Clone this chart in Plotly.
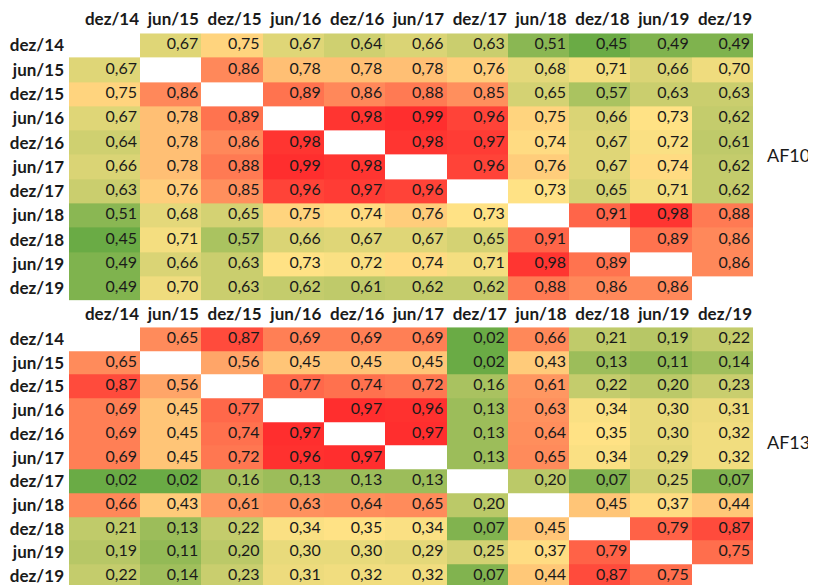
import numpy as np
import plotly.graph_objects as go

periods = ["dez/14", "jun/15", "dez/15", "jun/16", "dez/16", "jun/17",
           "dez/17", "jun/18", "dez/18", "jun/19", "dez/19"]

af10 = [
    [None, 0.67, 0.75, 0.67, 0.64, 0.66, 0.63, 0.51, 0.45, 0.49, 0.49],
    [0.67, None, 0.86, 0.78, 0.78, 0.78, 0.76, 0.68, 0.71, 0.66, 0.70],
    [0.75, 0.86, None, 0.89, 0.86, 0.88, 0.85, 0.65, 0.57, 0.63, 0.63],
    [0.67, 0.78, 0.89, None, 0.98, 0.99, 0.96, 0.75, 0.66, 0.73, 0.62],
    [0.64, 0.78, 0.86, 0.98, None, 0.98, 0.97, 0.74, 0.67, 0.72, 0.61],
    [0.66, 0.78, 0.88, 0.99, 0.98, None, 0.96, 0.76, 0.67, 0.74, 0.62],
    [0.63, 0.76, 0.85, 0.96, 0.97, 0.96, None, 0.73, 0.65, 0.71, 0.62],
    [0.51, 0.68, 0.65, 0.75, 0.74, 0.76, 0.73, None, 0.91, 0.98, 0.88],
    [0.45, 0.71, 0.57, 0.66, 0.67, 0.67, 0.65, 0.91, None, 0.89, 0.86],
    [0.49, 0.66, 0.63, 0.73, 0.72, 0.74, 0.71, 0.98, 0.89, None, 0.86],
    [0.49, 0.70, 0.63, 0.62, 0.61, 0.62, 0.62, 0.88, 0.86, 0.86, None],
]

af13 = [
    [None, 0.65, 0.87, 0.69, 0.69, 0.69, 0.02, 0.66, 0.21, 0.19, 0.22],
    [0.65, None, 0.56, 0.45, 0.45, 0.45, 0.02, 0.43, 0.13, 0.11, 0.14],
    [0.87, 0.56, None, 0.77, 0.74, 0.72, 0.16, 0.61, 0.22, 0.20, 0.23],
    [0.69, 0.45, 0.77, None, 0.97, 0.96, 0.13, 0.63, 0.34, 0.30, 0.31],
    [0.69, 0.45, 0.74, 0.97, None, 0.97, 0.13, 0.64, 0.35, 0.30, 0.32],
    [0.69, 0.45, 0.72, 0.96, 0.97, None, 0.13, 0.65, 0.34, 0.29, 0.32],
    [0.02, 0.02, 0.16, 0.13, 0.13, 0.13, None, 0.20, 0.07, 0.25, 0.07],
    [0.66, 0.43, 0.61, 0.63, 0.64, 0.65, 0.20, None, 0.45, 0.37, 0.44],
    [0.21, 0.13, 0.22, 0.34, 0.35, 0.34, 0.07, 0.45, None, 0.79, 0.87],
    [0.19, 0.11, 0.20, 0.30, 0.30, 0.29, 0.25, 0.37, 0.79, None, 0.75],
    [0.22, 0.14, 0.23, 0.31, 0.32, 0.32, 0.07, 0.44, 0.87, 0.75, None],
]

panel_names = ["AF10", "AF13"]

# ---- layout constants (screen pixels; page body has an 8px margin) ----
OFF = 8
W, H = 816 - OFF, 586 - OFF
X0, X1 = 69 - OFF, 753 - OFF
col_widths = [71] + [61.3] * 10
edges = np.concatenate([[0.0], np.cumsum(col_widths)])
# panel (top px, bottom px, y-range bottom in row units, header standoff)
panels = [(29.5 - OFF, 299.0 - OFF, 10.5, 4),
          (326.0 - OFF, 586.0 - OFF, 10.38, 3)]
label_y_px = [152 - OFF, 442 - OFF]
label_x_px = 812 - OFF

GREEN, YELLOW, RED = "#6AAB45", "#FFE285", "#FF2E2E"
FONT = "Lato"
TXT = "#1a1a1a"


def colorscale(vals):
    a = np.array(vals, dtype=float)
    lo, hi, med = np.nanmin(a), np.nanmax(a), np.nanmedian(a)
    m = (med - lo) / (hi - lo)
    return lo, hi, [[0, GREEN], [m, YELLOW], [1, RED]]


fig = go.Figure()
for i, vals in enumerate([af10, af13]):
    xa = "x" if i == 0 else "x2"
    ya = "y" if i == 0 else "y2"
    z = np.array(vals, dtype=float)
    lo, hi, cs = colorscale(vals)
    fig.add_trace(go.Heatmap(
        z=z, x=edges, y=periods, colorscale=cs, zmin=lo, zmax=hi,
        showscale=False, xaxis=xa, yaxis=ya, hoverongaps=False,
    ))
    xs, ys, ts = [], [], []
    for r, row in enumerate(vals):
        for c, v in enumerate(row):
            if v is None:
                continue
            xs.append(edges[c + 1] - 3)
            ys.append(periods[r])
            ts.append(f"{v:.2f}".replace(".", ","))
    fig.add_trace(go.Scatter(
        x=xs, y=ys, text=ts, mode="text", textposition="middle left",
        textfont=dict(family=FONT, size=16, color=TXT), cliponaxis=False,
        xaxis=xa, yaxis=ya, hoverinfo="skip", showlegend=False,
    ))

layout = dict(
    width=W, height=H, margin=dict(l=0, r=0, t=0, b=0),
    paper_bgcolor="white", plot_bgcolor="white", showlegend=False,
)
for i in range(2):
    top, bot, rbot, standoff = panels[i]
    xkey = "xaxis" if i == 0 else "xaxis2"
    ykey = "yaxis" if i == 0 else "yaxis2"
    layout[xkey] = dict(
        domain=[X0 / W, X1 / W], range=[edges[0], edges[-1]], side="top",
        tickvals=edges[1:] - 28, ticktext=periods, ticks="", showgrid=False,
        zeroline=False, showline=False, ticklabelstandoff=standoff,
        tickfont=dict(family=FONT, size=17, color=TXT, weight=700),
        anchor="y" if i == 0 else "y2", fixedrange=True,
    )
    layout[ykey] = dict(
        domain=[1 - bot / H, 1 - top / H], range=[rbot, -0.5],
        type="category", ticks="", showgrid=False, zeroline=False,
        showline=False, ticklabelstandoff=4,
        tickfont=dict(family=FONT, size=17, color=TXT, weight=700),
        anchor="x" if i == 0 else "x2", fixedrange=True,
    )
fig.update_layout(**layout)

for i, name in enumerate(panel_names):
    fig.add_annotation(
        x=label_x_px / W, y=1 - label_y_px[i] / H, xref="paper", yref="paper",
        text=name, showarrow=False, xanchor="right", yanchor="middle",
        font=dict(family=FONT, size=18, color=TXT),
    )

fig.write_html("out.html")
